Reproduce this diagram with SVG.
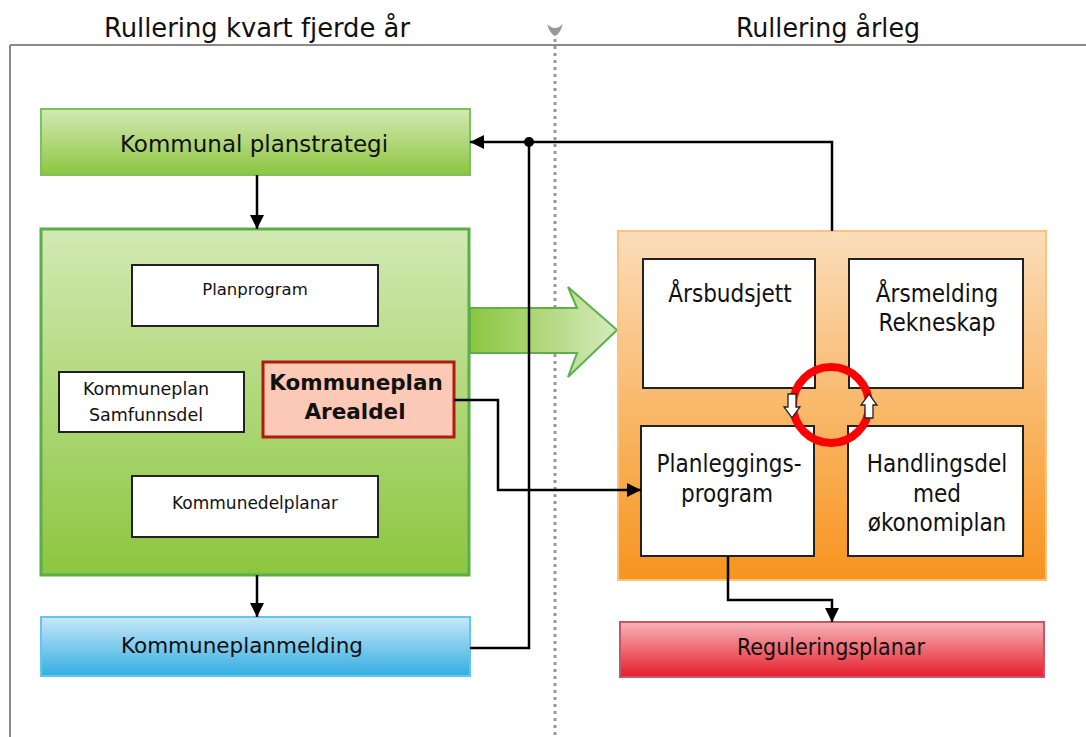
<svg xmlns="http://www.w3.org/2000/svg" width="1086" height="737" viewBox="0 0 1086 737">
<defs>
<style>
.t{font-family:"DejaVu Sans",Verdana,sans-serif;fill:#111;text-anchor:middle}
.c{font-family:"DejaVu Sans Condensed","DejaVu Sans",sans-serif;fill:#111;text-anchor:middle}
.b{font-weight:bold}
.box{fill:#fff;stroke:#222;stroke-width:2}
.con{fill:none;stroke:#000;stroke-width:2.5}
.arr{marker-end:url(#ah)}
</style>
<marker id="ah" markerUnits="userSpaceOnUse" markerWidth="16" markerHeight="16" refX="14" refY="8" orient="auto">
<path d="M0,1 L14,8 L0,15 Z" fill="#000"/>
</marker>
<linearGradient id="gGreen" x1="0" y1="0" x2="0" y2="1">
<stop offset="0" stop-color="#d3e9b3"/><stop offset="1" stop-color="#8cc63f"/>
</linearGradient>
<linearGradient id="gBlue" x1="0" y1="0" x2="0" y2="1">
<stop offset="0" stop-color="#c8e8f8"/><stop offset="1" stop-color="#33ade2"/>
</linearGradient>
<linearGradient id="gOrange" x1="0" y1="0" x2="0" y2="1">
<stop offset="0" stop-color="#fbddba"/><stop offset="1" stop-color="#f7941d"/>
</linearGradient>
<linearGradient id="gRed" x1="0" y1="0" x2="0" y2="1">
<stop offset="0" stop-color="#f7b4b9"/><stop offset="1" stop-color="#e61e2c"/>
</linearGradient>
<linearGradient id="gArrow" x1="0" y1="0" x2="1" y2="0">
<stop offset="0" stop-color="#8cc63f"/><stop offset="1" stop-color="#d6eabd"/>
</linearGradient>
</defs>

<rect width="1086" height="737" fill="#fff"/>

<g id="frame">
<line x1="10" y1="45" x2="1086" y2="45" stroke="#8a8a8a" stroke-width="2"/>
<line x1="10" y1="45" x2="10" y2="737" stroke="#8a8a8a" stroke-width="2"/>
<line x1="555" y1="32" x2="555" y2="737" stroke="#999" stroke-width="3" stroke-dasharray="3,4"/>
<path d="M547,24 Q555,32 563,24 Q560,34 555,36 Q550,34 547,24 Z" fill="#999"/>
<text class="c" x="257" y="37" font-size="26" textLength="306" lengthAdjust="spacingAndGlyphs">Rullering kvart fjerde år</text>
<text class="c" x="828" y="37" font-size="26" textLength="184" lengthAdjust="spacingAndGlyphs">Rullering årleg</text>
</g>

<g id="n-planstrategi">
<rect x="41" y="109" width="429" height="66" fill="url(#gGreen)" stroke="#7cc061" stroke-width="2"/>
<text class="t" x="254" y="152" font-size="23">Kommunal planstrategi</text>
</g>

<g id="n-kommuneplan">
<rect x="41" y="229" width="428" height="346" fill="url(#gGreen)" stroke="#5aae4a" stroke-width="3"/>
</g>

<g id="n-planprogram">
<rect class="box" x="132" y="265" width="246" height="61"/>
<text class="t" x="255" y="295" font-size="16.5">Planprogram</text>
</g>

<g id="n-samfunnsdel">
<rect class="box" x="59" y="372" width="185" height="60"/>
<text class="t" x="146" y="395" font-size="17.5">Kommuneplan</text>
<text class="t" x="146" y="421" font-size="17.5">Samfunnsdel</text>
</g>

<g id="n-arealdel">
<rect x="263" y="362" width="191" height="75" fill="#fbc9b5" stroke="#b21a10" stroke-width="3"/>
<text class="t b" x="356" y="390" font-size="21.5">Kommuneplan</text>
<text class="t b" x="355" y="419" font-size="21.5">Arealdel</text>
</g>

<g id="n-kommunedelplanar">
<rect class="box" x="132" y="476" width="246" height="61"/>
<text class="t" x="255" y="509" font-size="17">Kommunedelplanar</text>
</g>

<g id="n-kommuneplanmelding">
<rect x="41" y="617" width="429" height="59" fill="url(#gBlue)" stroke="#64c6ee" stroke-width="2"/>
<text class="t" x="242" y="653" font-size="21.5">Kommuneplanmelding</text>
</g>

<g id="n-bigarrow">
<polygon points="470,308 577,308 568,287 617,330 568,377 577,353 470,353" fill="url(#gArrow)" stroke="#5cb04b" stroke-width="2" stroke-linejoin="miter"/>
</g>

<g id="n-arleg">
<rect x="618" y="231" width="428" height="349" fill="url(#gOrange)" stroke="#fbc47e" stroke-width="2"/>
</g>

<g id="n-arsbudsjett">
<rect class="box" x="643" y="259" width="172" height="129"/>
<text class="c" x="730" y="302" font-size="24">Årsbudsjett</text>
</g>

<g id="n-arsmelding">
<rect class="box" x="849" y="259" width="174" height="129"/>
<text class="c" x="937" y="302" font-size="24">Årsmelding</text>
<text class="c" x="937" y="331" font-size="24">Rekneskap</text>
</g>

<g id="n-planleggingsprogram">
<rect class="box" x="641" y="426" width="173" height="130"/>
<text class="c" x="729" y="472" font-size="24">Planleggings-</text>
<text class="c" x="727" y="502" font-size="24">program</text>
</g>

<g id="n-handlingsdel">
<rect class="box" x="848" y="426" width="175" height="130"/>
<text class="c" x="937" y="472" font-size="24">Handlingsdel</text>
<text class="c" x="937" y="502" font-size="24">med</text>
<text class="c" x="937" y="531" font-size="24">økonomiplan</text>
</g>

<g id="n-cycle">
<circle cx="831" cy="405" r="38" fill="none" stroke="#ff0000" stroke-width="8"/>
<path d="M788,394 H796 V407 H800 L792,418 L784,407 H788 Z" fill="#fff" stroke="#222" stroke-width="1.3"/>
<path d="M865,418 H873 V405 H877 L869,394 L861,405 H865 Z" fill="#fff" stroke="#222" stroke-width="1.3"/>
</g>

<g id="n-reguleringsplanar">
<rect x="620" y="622" width="424" height="55" fill="url(#gRed)" stroke="#c5566a" stroke-width="2"/>
<text class="c" x="831" y="655" font-size="23">Reguleringsplanar</text>
</g>

<g id="connectors">
<path class="con arr" d="M257,175 V229"/>
<path class="con arr" d="M257,575 V617"/>
<path class="con arr" d="M832,231 V142 H470"/>
<path class="con" d="M470,648 H529 V142"/>
<circle cx="529" cy="142" r="5" fill="#000"/>
<path class="con arr" d="M454,400 H498 V490 H641"/>
<path class="con arr" d="M728,556 V600 H832 V622"/>
</g>
</svg>
